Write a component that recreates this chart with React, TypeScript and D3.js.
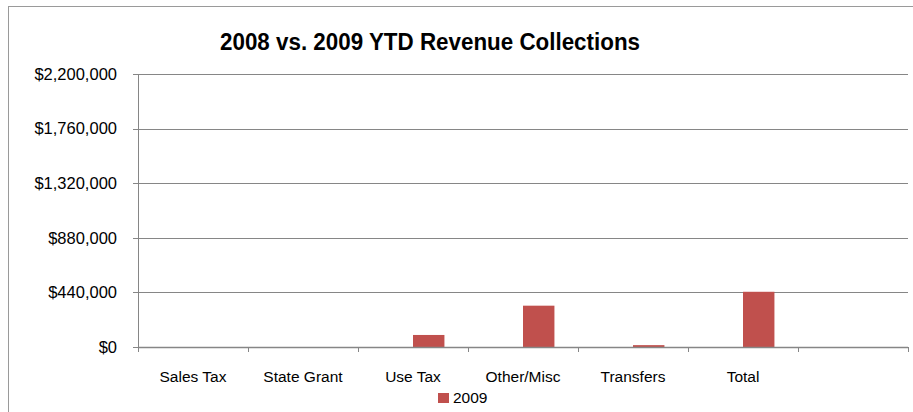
import React from "react";
import * as d3 from "d3";

const categories = ["Sales Tax", "State Grant", "Use Tax", "Other/Misc", "Transfers", "Total", ""];
const series = ["2008", "2009"];
const values2008 = [0, 0, 0, 0, 0, 0, 0];
const values2009 = [0, 0, 97000, 333000, 15000, 445000, 0];
const yTicks = [0, 440000, 880000, 1320000, 1760000, 2200000];
const title = "2008 vs. 2009 YTD Revenue Collections";

export default function App() {
  const W = 913, H = 412;
  const left = 138, right = 908, top = 74, bottom = 347;
  const x0 = d3.scaleBand<string>().domain(categories.map((c, i) => String(i))).range([left, right]).padding(0);
  const x1 = d3.scaleBand<string>().domain(series).range([0, x0.bandwidth()]).paddingInner(0).paddingOuter(0.75);
  const y = d3.scaleLinear().domain([0, 2200000]).range([bottom, top]);
  const fmt = (v: number) => "$" + d3.format(",")(v);
  const grid = "#868686";
  const barColor = "#C0504D";
  const font = "'Liberation Sans', Arial, sans-serif";
  const data = [values2008, values2009];
  return (
    <svg width={W} height={H} style={{ position: "absolute", left: 0, top: 0 }} fontFamily={font}>
      <rect x={0} y={0} width={W} height={H} fill="#fff" />
      <rect x={8.5} y={6.5} width={W + 10} height={H + 10} fill="none" stroke="#9a9a9a" strokeWidth={1} />
      <text x={430} y={50} textAnchor="middle" fontSize={23} fontWeight="bold" fill="#000" textLength={420} lengthAdjust="spacingAndGlyphs">{title}</text>
      {yTicks.map((t) => (
        <g key={t}>
          <line x1={left - 5} x2={right} y1={Math.round(y(t)) + 0.5} y2={Math.round(y(t)) + 0.5} stroke={grid} strokeWidth={1} />
          <text x={117} y={y(t)} dy="0.35em" textAnchor="end" fontSize={16.5} fill="#000">{fmt(t)}</text>
        </g>
      ))}
      <line x1={left + 0.5} x2={left + 0.5} y1={top} y2={bottom + 5} stroke={grid} strokeWidth={1} />
      {categories.map((c, i) => {
        const bx = x0(String(i))!;
        return (
          <g key={i}>
            <line x1={Math.round(bx + x0.bandwidth()) + 0.5} x2={Math.round(bx + x0.bandwidth()) + 0.5} y1={bottom} y2={bottom + 5} stroke={grid} />
            {series.map((s, k) => {
              const v = data[k][i];
              if (!v) return null;
              return (
                <rect key={s} x={bx + x1(s)!} y={y(v)} width={x1.bandwidth()} height={y(0) - y(v)} fill={barColor} />
              );
            })}
            <text x={bx + x0.bandwidth() / 2} y={377} dy="0.35em" textAnchor="middle" fontSize={15.5} fill="#000">{c}</text>
          </g>
        );
      })}
      <line x1={left} x2={right} y1={bottom + 0.5} y2={bottom + 0.5} stroke={grid} strokeWidth={1.5} />
      <rect x={438} y={393} width={11} height={10} fill={barColor} />
      <text x={453} y={398} dy="0.35em" fontSize={15.5} fill="#000">2009</text>
    </svg>
  );
}
